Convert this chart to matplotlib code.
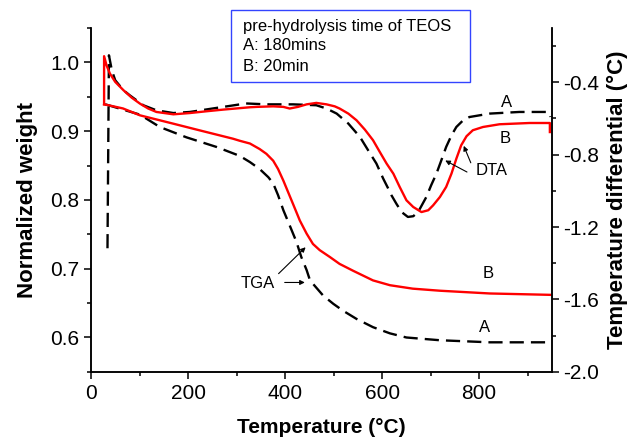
import matplotlib
matplotlib.use("Agg")
import matplotlib.pyplot as plt
from matplotlib.patches import Rectangle
from matplotlib.ticker import MultipleLocator

plt.rcParams['font.family'] = ['Liberation Sans', 'DejaVu Sans']
plt.rcParams['axes.unicode_minus'] = False

# TGA (left axis, normalized weight)
tga_a_x = [28, 38, 100, 141, 196, 258, 306, 327, 347, 365, 375, 385, 396, 409, 423,
           433, 444, 451, 478, 499, 519, 547, 581, 616, 650, 719, 822, 947]
tga_a_y = [0.939, 0.937, 0.924, 0.906, 0.891, 0.877, 0.864, 0.855, 0.845, 0.833, 0.824,
           0.807, 0.785, 0.763, 0.739, 0.717, 0.698, 0.683, 0.661, 0.649, 0.639, 0.627,
           0.615, 0.606, 0.600, 0.596, 0.593, 0.593]
tga_b_x = [26, 65, 100, 168, 224, 292, 306, 327, 347, 361, 375, 385, 396, 406, 416,
           430, 444, 457, 471, 492, 512, 540, 581, 616, 663, 719, 822, 947]
tga_b_y = [0.939, 0.933, 0.923, 0.911, 0.901, 0.889, 0.886, 0.882, 0.874, 0.867, 0.857,
           0.845, 0.828, 0.811, 0.794, 0.770, 0.751, 0.736, 0.727, 0.717, 0.707, 0.697,
           0.683, 0.676, 0.671, 0.668, 0.664, 0.662]

# DTA (right axis, temperature differential)
dta_a_x = [33, 36, 42, 49, 66, 79, 107, 134, 169, 203, 272, 319, 361, 416, 464, 485,
           506, 530, 554, 571, 588, 602, 612, 619, 629, 640, 653, 664, 674, 691, 701,
           712, 722, 732, 743, 753, 767, 780, 822, 883, 938, 946, 947]
dta_a_y = [-1.317, -0.251, -0.334, -0.389, -0.444, -0.472, -0.527, -0.555, -0.570, -0.564,
           -0.536, -0.517, -0.522, -0.522, -0.527, -0.545, -0.573, -0.628, -0.702, -0.776,
           -0.849, -0.932, -0.985, -1.024, -1.070, -1.117, -1.144, -1.140, -1.117, -1.034,
           -0.969, -0.904, -0.831, -0.757, -0.693, -0.647, -0.610, -0.592, -0.573, -0.564,
           -0.564, -0.573, -0.592]
dta_b_x = [26, 26, 31, 38, 49, 66, 83, 100, 117, 134, 169, 203, 238, 272, 327, 341,
           375, 396, 409, 426, 444, 464, 485, 502, 512, 530, 547, 564, 581, 595, 609,
           623, 636, 650, 664, 681, 695, 705, 719, 732, 743, 753, 763, 774, 787, 808,
           842, 904, 946, 946]
dta_b_y = [-0.522, -0.256, -0.306, -0.352, -0.398, -0.444, -0.485, -0.518, -0.545, -0.564,
           -0.577, -0.570, -0.560, -0.551, -0.538, -0.536, -0.533, -0.536, -0.545, -0.536,
           -0.522, -0.514, -0.522, -0.533, -0.545, -0.573, -0.610, -0.661, -0.720, -0.785,
           -0.849, -0.905, -0.978, -1.052, -1.089, -1.117, -1.107, -1.080, -1.034, -0.978,
           -0.904, -0.822, -0.748, -0.698, -0.665, -0.647, -0.632, -0.625, -0.625, -0.675]

legend_lines = ["pre-hydrolysis time of TEOS", "A: 180mins", "B: 20min"]

fig = plt.figure(figsize=(6.31, 4.37), dpi=100)
fig.subplots_adjust(left=0.145, right=0.8745, bottom=0.149, top=0.936)
ax = fig.add_subplot(111)
ax2 = ax.twinx()

dash = (0, (6, 3))
ax.plot(tga_a_x, tga_a_y, color='black', lw=1.7, linestyle=dash)
ax.plot(tga_b_x, tga_b_y, color='#ff0000', lw=1.7)
ax2.plot(dta_a_x, dta_a_y, color='black', lw=1.7, linestyle=dash)
ax2.plot(dta_b_x, dta_b_y, color='#ff0000', lw=1.7)

ax.set_xlim(0, 950)
ax.set_ylim(0.55, 1.05)
ax2.set_ylim(-2.0, -0.1)

ax.xaxis.set_major_locator(MultipleLocator(200))
ax.xaxis.set_minor_locator(MultipleLocator(100))
ax.yaxis.set_major_locator(MultipleLocator(0.1))
ax.yaxis.set_minor_locator(MultipleLocator(0.05))
ax2.yaxis.set_major_locator(MultipleLocator(0.4))
ax2.yaxis.set_minor_locator(MultipleLocator(0.2))
ax.yaxis.set_major_formatter(plt.FuncFormatter(lambda v, p: '%.1f' % v))
ax2.yaxis.set_major_formatter(plt.FuncFormatter(lambda v, p: '%.1f' % v))

for a in (ax, ax2):
    a.spines['top'].set_visible(False)
    for s in a.spines.values():
        s.set_linewidth(1.1)
    a.tick_params(which='major', direction='out', length=5, width=1.1, labelsize=15)
    a.tick_params(which='minor', direction='out', length=3, width=1.1)

ax.set_xlabel("Temperature (\u00b0C)", fontsize=15, fontweight='bold', labelpad=11)
ax.set_ylabel("Normalized weight", fontsize=16, fontweight='bold', labelpad=9)
ax2.set_ylabel("Temperature differential (\u00b0C)", fontsize=16, fontweight='bold',
               labelpad=5)

# curve labels
ax2.text(856, -0.51, "A", fontsize=12, ha='center', va='center')
ax2.text(854, -0.709, "B", fontsize=12, ha='center', va='center')
ax.text(818, 0.693, "B", fontsize=12, ha='center', va='center')
ax.text(812, 0.615, "A", fontsize=12, ha='center', va='center')

arrow = dict(arrowstyle='-|>', color='black', lw=0.8, mutation_scale=7)
ax.text(343, 0.678, "TGA", fontsize=12, ha='center', va='center')
ax.annotate('', xy=(446, 0.734), xytext=(382, 0.690), arrowprops=arrow)
ax.annotate('', xy=(446, 0.680), xytext=(393, 0.680), arrowprops=arrow)

ax2.text(826, -0.886, "DTA", fontsize=12, ha='center', va='center')
ax2.annotate('', xy=(766, -0.737), xytext=(785, -0.859), arrowprops=arrow)
ax2.annotate('', xy=(725, -0.825), xytext=(780, -0.903), arrowprops=arrow)

# legend box
fig.patches.append(Rectangle((0.366, 0.8124), 0.3788, 0.1648, transform=fig.transFigure,
                             facecolor='white', edgecolor='#3344ff', lw=1.0, zorder=5))
for line, yy in zip(legend_lines, [0.9405, 0.897, 0.8485]):
    fig.text(0.385, yy, line, fontsize=12, ha='left', va='center', zorder=6)

fig.savefig('out.png', dpi=100)
